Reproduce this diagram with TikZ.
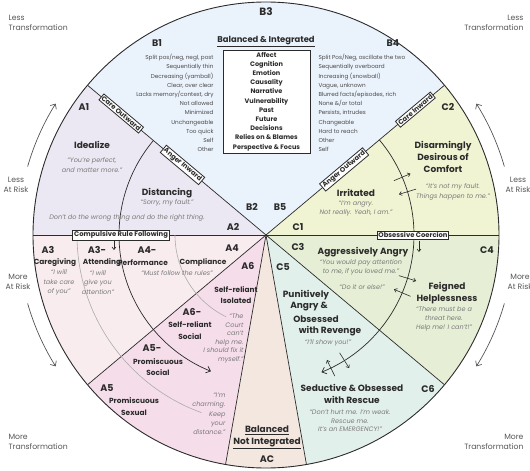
\documentclass[tikz,border=0pt]{standalone}
\usepackage{fontspec}
\setmainfont{Poppins}
\usepackage{tikz}
\usetikzlibrary{arrows.meta}
\definecolor{ink}{HTML}{2B2B2B}
\definecolor{quotegray}{HTML}{7A7A7A}
\definecolor{bzone}{HTML}{EAF2FB}
\definecolor{aup}{HTML}{ECE8F3}
\definecolor{alow}{HTML}{F8ECEF}
\definecolor{apink}{HTML}{F5DDEA}
\definecolor{aczone}{HTML}{F3E7DF}
\definecolor{cteal}{HTML}{E2F0EC}
\definecolor{cgreen}{HTML}{E6EFD5}
\definecolor{cyellow}{HTML}{F1F4D3}

\begin{document}
\begin{tikzpicture}[x=1pt,y=1pt,
  tag/.style={font=\bfseries\fontsize{9.5}{10}\selectfont,text=ink},
  head/.style={font=\bfseries\fontsize{9}{12.3}\selectfont,text=ink,align=center},
  sub/.style={font=\bfseries\fontsize{7.4}{11.5}\selectfont,text=ink,align=center},
  quote/.style={font=\itshape\fontsize{6.5}{9.3}\selectfont,text=quotegray,align=center},
  list/.style={font=\fontsize{5.7}{9.2}\selectfont,text=ink!85},
  rim/.style={font=\fontsize{7.7}{10}\selectfont,text=ink!80},
  flag/.style={draw=ink,fill=white,line width=0.8pt,inner sep=1.3pt,font=\bfseries\fontsize{6.8}{7.5}\selectfont,text=ink},
  divider/.style={draw=ink,line width=0.7pt},
  guide/.style={draw=gray!65,line width=0.6pt},
  tip/.style={-{Straight Barb[length=4pt,width=7pt]}},
  small tip/.style={-{Straight Barb[length=2.5pt,width=4pt]}}]
\useasboundingbox (-266,-236) rectangle (264,235);

% sectors
\foreach \from/\to/\col in {40/140/bzone,140/180/aup,180/220/alow,220/260/apink,
  260/280/aczone,280/320/cteal,320/360/cgreen,0/40/cyellow}
  \fill[\col] (0,0) -- (\from:233pt) arc[start angle=\from,end angle=\to,radius=233pt] -- cycle;

% dividing lines and rings
\draw[divider] (140:233pt) -- (0,0) -- (40:233pt);
\draw[divider] (180:233pt) -- (0:233pt);
\foreach \a in {220,260,280,320}
  \draw[divider] (0,0) -- (\a:233pt);
\draw[guide] (180:189pt) arc[start angle=180,end angle=250,radius=189pt];
\draw[guide] (180:91pt) arc[start angle=180,end angle=244,radius=91pt];
\draw[divider,tip] (140:147pt) arc[start angle=140,end angle=248,radius=147pt];
\draw[divider,tip] (40:148pt) arc[start angle=40,end angle=-68,radius=148pt];
\draw[ink,line width=0.9pt] (0,0) circle[radius=233pt];

% swap arrows on the ring
\foreach \a in {20,-20,-61} {
  \draw[ink,line width=0.6pt,small tip] ({\a+3}:139pt) -- ({\a+3}:157pt);
  \draw[ink,line width=0.6pt,small tip] ({\a-3}:157pt) -- ({\a-3}:139pt);
}
\draw[ink,line width=0.6pt,small tip] (-152,-3) -- (-152,-15);
\draw[ink,line width=0.6pt,small tip] (153,-6) -- (153,-17);

% outer arrows
\draw[ink!80,line width=0.7pt,tip] (164:248pt) arc[start angle=164,end angle=148,radius=248pt];
\draw[ink!80,line width=0.7pt,tip] (196:248pt) arc[start angle=196,end angle=212,radius=248pt];
\draw[ink!80,line width=0.7pt,tip] (16:248pt) arc[start angle=16,end angle=32,radius=248pt];
\draw[ink!80,line width=0.7pt,tip] (-16:248pt) arc[start angle=-16,end angle=-32,radius=248pt];

\node[rim,anchor=west,align=left] (lt) at (-261,212) {Less\\Transformation};
\node[rim,anchor=east,align=right] (rt) at (261,212) {Less\\Transformation};
\node[rim,align=center] (lrisk) at (-250,50) {Less\\At Risk};
\node[rim,align=center] (rrisk) at (252,50) {Less\\At Risk};
\node[rim,align=center] (lmore) at (-248,-47) {More\\At Risk};
\node[rim,align=center] (rmore) at (254,-47) {More\\At Risk};
\node[rim,anchor=west,align=left] (lb) at (-261,-207) {More\\Transformation};
\node[rim,anchor=east,align=right] (rb) at (261,-207) {More\\Transformation};

% flags on the lines
\node[flag,rotate=-40] (careout) at (140:189pt) {Care Outward};
\node[flag,rotate=-40] (angerin) at (140:109pt) {Anger Inward};
\node[flag,rotate=40] (carein) at (40:195pt) {Care Inward};
\node[flag,rotate=40] (angerout) at (40:102pt) {Anger Outward};
\node[flag] (rules) at (-145,0) {Compulsive Rule Following};
\node[flag] (coercion) at (147,0) {Obsessive Coercion};

% B
\node[tag,font=\bfseries\fontsize{10.5}{11}\selectfont] (b3) at (0,223) {B3};
\node[head,font=\bfseries\fontsize{8.4}{10}\selectfont] (bal) at (0,193) {\underline{Balanced \& Integrated}};
\node[tag] (b1) at (-109,192) {B1};
\node[tag] (b4) at (127,192) {B4};
\node[list,anchor=east,align=right] (b1list) at (-49,132) {Split pos/neg, negl, post\\Sequentially thin\\Decreasing (yamball)\\Clear, over clear\\Lacks memory/context, dry\\Not allowed\\Minimized\\Unchangeable\\Too quick\\Self\\Other};
\node[list,anchor=west,align=left] (b4list) at (49,132) {Split Pos/Neg, oscillate the two\\Sequentially overboard\\Increasing (snowball)\\Vague, unknown\\Blurred facts/episodes, rich\\None \&/or total\\Persists, intrudes\\Changeable\\Hard to reach\\Other\\Self};
\node[draw=ink,fill=white,line width=0.8pt,minimum width=87pt,minimum height=103pt,inner sep=0pt,
  align=center,font=\bfseries\fontsize{6.5}{9.2}\selectfont,text=ink] (core) at (0.5,133.5)
  {Affect\\Cognition\\Emotion\\Causality\\Narrative\\Vulnerability\\Past\\Future\\Decisions\\Relies on \& Blames\\Perspective \& Focus};
\node[tag] (b2) at (-14,28) {B2};
\node[tag] (b5) at (14,28) {B5};

% A upper
\node[tag] (a1) at (-182,128) {A1};
\node[head] (ideal) at (-174,90) {Idealize};
\node[quote] (idealq) at (-174,70) {“You’re perfect,\\and matter more.”};
\node[head] (dist) at (-99,42) {Distancing};
\node[quote] (distq) at (-99,32) {“Sorry, my fault.”};
\node[quote] (rightq) at (-139,17) {Don’t do the wrong thing and do the right thing.};
\node[tag] (a2) at (-33,8) {A2};

% C upper
\node[tag] (c2) at (182,128) {C2};
\node[head] (disarm) at (177,78) {Disarmingly\\Desirous of\\Comfort};
\node[quote] (disarmq) at (187,43) {“It’s not my fault.\\Things happen to me.”};
\node[head] (irrit) at (90,42) {Irritated};
\node[quote] (irritq) at (90,26.5) {“I’m angry.\\Not really. Yeah, I am.”};
\node[tag] (c1) at (32,8) {C1};

% A lower
\node[tag] (a3) at (-218,-15) {A3};
\node[sub] (care) at (-211,-28) {Caregiving};
\node[quote] (careq) at (-207,-47.5) {“I will\\take care\\of you”};
\node[tag] (a3m) at (-169,-15) {A3-};
\node[sub] (attend) at (-164,-28) {Attending};
\node[quote] (attendq) at (-168,-47.5) {“I will\\give you\\attention”};
\node[tag] (a4m) at (-119,-15) {A4-};
\node[sub] (perf) at (-123,-28) {Performance};
\node[tag] (a4) at (-34,-13) {A4};
\node[sub] (compl) at (-63,-28) {Compliance};
\node[quote] (complq) at (-89,-38) {“Must follow the rules”};
\node[tag] (a6) at (-18,-31) {A6};
\node[sub] (isol) at (-30,-60) {Self-reliant\\Isolated};
\node[tag] (a6m) at (-74,-77) {A6-};
\node[sub] (social) at (-76,-95.5) {Self-reliant\\Social};
\node[quote,anchor=east,align=right,font=\itshape\fontsize{6.5}{8.6}\selectfont] (courtq) at (-19,-103.5) {“The\\Court\\can’t\\help me.\\I should fix it\\myself.”};
\node[tag] (a5m) at (-114,-113) {A5-};
\node[sub] (promsoc) at (-108,-132) {Promiscuous\\Social};
\node[tag] (a5) at (-159,-153) {A5};
\node[sub] (promsex) at (-132,-171.5) {Promiscuous\\Sexual};
\node[quote,anchor=east,align=right] (charmq) at (-37,-179) {“I’m\\charming.\\Keep\\your\\distance.”};

% AC
\node[head] (acbal) at (1,-202.5) {\underline{Balanced}\\\underline{Not Integrated}};
\node[tag] (ac) at (1,-224.3) {AC};

% C lower
\node[tag] (c3) at (32,-12) {C3};
\node[head] (aggr) at (97,-17) {Aggressively Angry};
\node[quote] (aggrq) at (95,-32.5) {“You would pay attention\\to me, if you loved me.”};
\node[quote] (elseq) at (96,-52) {“Do it or else!”};
\node[tag] (c4) at (221,-15) {C4};
\node[head] (feign) at (181,-58) {Feigned\\Helplessness};
\node[quote] (feignq) at (178,-84) {“There must be a\\threat here.\\Help me! I can’t!”};
\node[tag] (c5) at (17,-32) {C5};
\node[head] (pun1) at (40,-60) {Punitively};
\node[head] (pun2) at (43,-72) {Angry \&};
\node[head] (pun3) at (50,-84) {Obsessed};
\node[head] (pun4) at (64,-96) {with Revenge};
\node[quote] (punq) at (62,-108) {“I’ll show you!”};
\node[head] (seduce) at (86,-159) {Seductive \& Obsessed\\with Rescue};
\node[quote,font=\itshape\fontsize{6.5}{8.6}\selectfont] (seduceq) at (84,-186) {“Don’t hurt me. I’m weak.\\Rescue me.\\It’s an EMERGENCY!”};
\node[tag] (c6) at (162,-154) {C6};
\end{tikzpicture}
\end{document}
